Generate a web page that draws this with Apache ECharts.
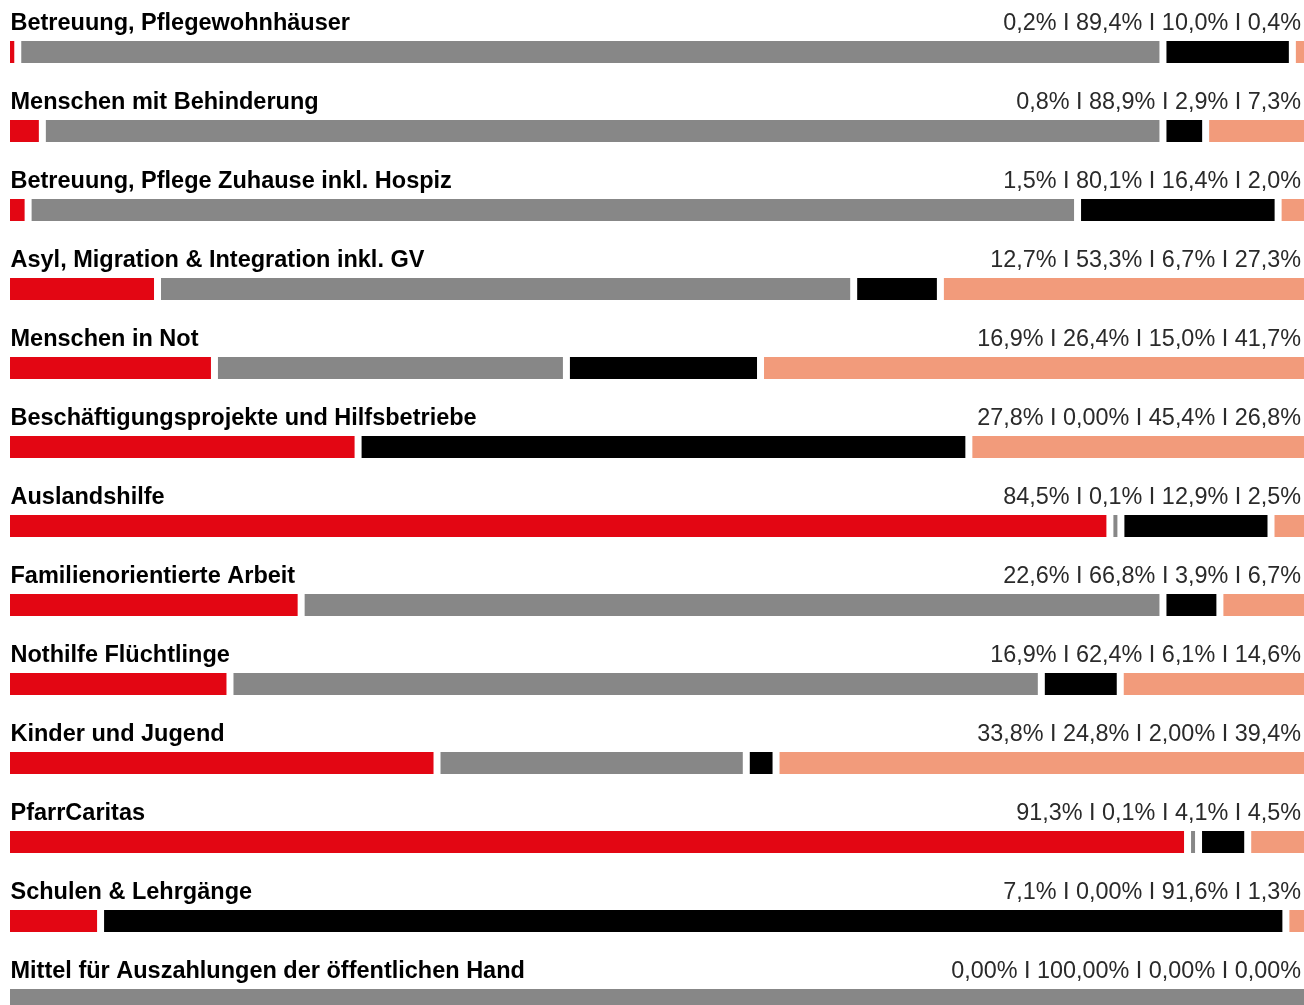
<!DOCTYPE html>
<html style="width: 100%;height:100%;">

<head>
    <meta charset="utf-8">
    <title>Anteile nach Bereich</title>
    <script src="https://cdn.jsdelivr.net/npm/echarts@6/dist/echarts.min.js"></script>
    <style>
        html, body {
            margin: 0;
            padding: 0;
            background: #ffffff;
        }

        #chart {
            width: 1304px;
            height: 1005px;
        }
    </style>
</head>

<body>
    <div id="chart"></div>
    <script>
        // rows, top to bottom
        const categories = [
            'Betreuung, Pflegewohnhäuser',
            'Menschen mit Behinderung',
            'Betreuung, Pflege Zuhause inkl. Hospiz',
            'Asyl, Migration & Integration inkl. GV',
            'Menschen in Not',
            'Beschäftigungsprojekte und Hilfsbetriebe',
            'Auslandshilfe',
            'Familienorientierte Arbeit',
            'Nothilfe Flüchtlinge',
            'Kinder und Jugend',
            'PfarrCaritas',
            'Schulen & Lehrgänge',
            'Mittel für Auszahlungen der öffentlichen Hand'
        ];

        // printed shares, as shown right of each row
        const shareLabels = [
            '0,2% I 89,4% I 10,0% I 0,4%',
            '0,8% I 88,9% I 2,9% I 7,3%',
            '1,5% I 80,1% I 16,4% I 2,0%',
            '12,7% I 53,3% I 6,7% I 27,3%',
            '16,9% I 26,4% I 15,0% I 41,7%',
            '27,8% I 0,00% I 45,4% I 26,8%',
            '84,5% I 0,1% I 12,9% I 2,5%',
            '22,6% I 66,8% I 3,9% I 6,7%',
            '16,9% I 62,4% I 6,1% I 14,6%',
            '33,8% I 24,8% I 2,00% I 39,4%',
            '91,3% I 0,1% I 4,1% I 4,5%',
            '7,1% I 0,00% I 91,6% I 1,3%',
            '0,00% I 100,00% I 0,00% I 0,00%'
        ];

        // bar lengths as drawn (percent of full width)
        const redValues = [0.6, 2.5, 1.4, 11.4, 15.8, 26.9, 85.0, 22.5, 17.0, 33.0, 91.0, 7.0, 0];
        const grayValues = [88.5, 86.6, 81.1, 53.8, 27.2, 0, 0.85, 66.6, 62.7, 23.9, 0.85, 0, 100];
        const blackValues = [10.0, 3.3, 15.5, 6.7, 15.0, 47.2, 11.6, 4.4, 6.1, 2.3, 3.8, 91.6, 0];
        const salmonValues = [0.9, 7.6, 2.0, 28.1, 42.0, 25.9, 2.55, 6.5, 14.2, 40.8, 4.35, 1.4, 0];

        const colors = ['#e30613', '#878787', '#000000', '#f29b7b'];
        const GAP = 7;
        const BAR_H = 22;
        const ROW_PX = 79;
        const FIRST_CENTER = 52;
        const HEIGHT = 1005;

        // one item per non-empty segment: [start, end, row, colorIdx, isFirst, isLast]
        const segments = [];
        categories.forEach(function (name, row) {
            const vals = [redValues[row], grayValues[row], blackValues[row], salmonValues[row]];
            const nonZero = vals.map((v, i) => i).filter(i => vals[i] > 0);
            let acc = 0;
            vals.forEach(function (v, i) {
                if (v <= 0) return;
                segments.push([acc, acc + v, row, i,
                    i === nonZero[0] ? 1 : 0,
                    i === nonZero[nonZero.length - 1] ? 1 : 0]);
                acc += v;
            });
        });

        const chart = echarts.init(document.getElementById('chart'), null, { renderer: 'canvas' });

        function renderSegment(params, api) {
            const row = api.value(2);
            const p0 = api.coord([api.value(0), row]);
            const p1 = api.coord([api.value(1), row]);
            let x0 = p0[0] + (api.value(4) ? 0 : GAP / 2);
            let x1 = p1[0] - (api.value(5) ? 0 : GAP / 2);
            if (x1 - x0 < 4) {
                const mid = (x0 + x1) / 2;
                if (api.value(4)) { x1 = x0 + 4; } else { x0 = mid - 2; x1 = mid + 2; }
            }
            return {
                type: 'rect',
                shape: { x: x0, y: p0[1] - BAR_H / 2, width: x1 - x0, height: BAR_H },
                style: { fill: colors[api.value(3)] }
            };
        }

        function renderLabels(params, api) {
            const row = api.value(0);
            const left = api.coord([0, row]);
            const right = api.coord([100, row]);
            const y = left[1] - 28;
            return {
                type: 'group',
                children: [{
                    type: 'text',
                    style: {
                        x: left[0] + 0.5, y: y,
                        text: categories[row],
                        fill: '#000000',
                        font: 'bold 23.5px "Liberation Sans", Arial, sans-serif',
                        align: 'left', verticalAlign: 'middle'
                    }
                }, {
                    type: 'text',
                    style: {
                        x: right[0] - 3, y: y,
                        text: shareLabels[row],
                        fill: '#2a2a2a',
                        font: '23.4px "Liberation Sans", Arial, sans-serif',
                        align: 'right', verticalAlign: 'middle'
                    }
                }]
            };
        }

        const option = {
            animation: false,
            grid: { left: 10, right: 0, top: 0, bottom: 0 },
            xAxis: { type: 'value', min: 0, max: 100, show: false },
            // row index as a continuous scale so the 79px pitch can run past the bottom edge
            yAxis: {
                type: 'value', inverse: true, show: false,
                min: -FIRST_CENTER / ROW_PX,
                max: (HEIGHT - FIRST_CENTER) / ROW_PX
            },
            series: [{
                type: 'custom',
                renderItem: renderSegment,
                data: segments,
                encode: { x: [0, 1], y: 2 },
                silent: true,
                clip: false
            }, {
                type: 'custom',
                renderItem: renderLabels,
                data: categories.map((c, i) => [i]),
                encode: { y: 0 },
                silent: true
            }]
        };

        chart.setOption(option);
    </script>
</body>

</html>
